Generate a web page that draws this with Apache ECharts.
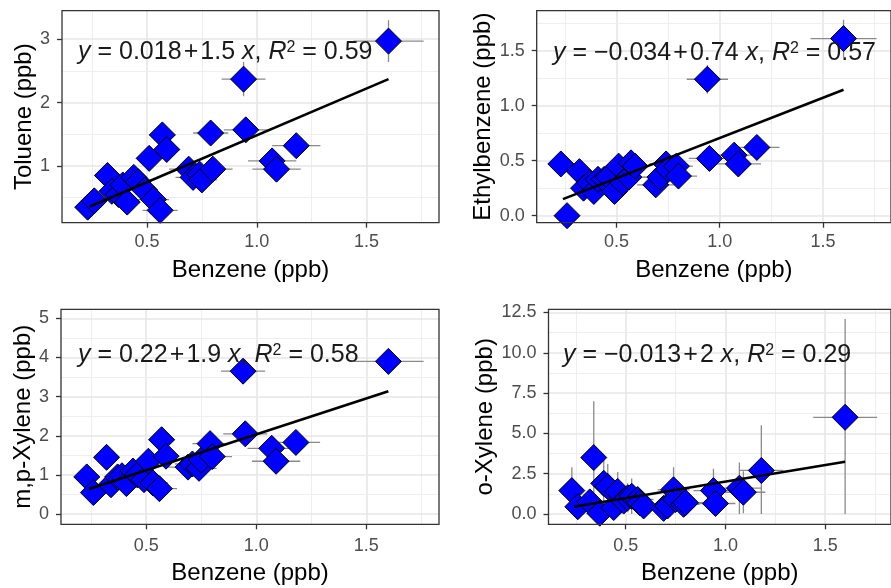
<!DOCTYPE html>
<html><head><meta charset="utf-8">
<script src="https://cdn.jsdelivr.net/npm/echarts@6/dist/echarts.min.js"></script>
<style>html,body{margin:0;padding:0;background:#fff}#c{width:891px;height:588px}</style>
</head><body><div id="c"></div>
<script>
// ---- data ----
const benzene    = [0.23,0.26,0.32,0.34,0.37,0.39,0.41,0.44,0.46,0.49,0.51,0.53,0.56,0.57,0.59,0.69,0.71,0.74,0.75,0.79,0.80,0.94,0.95,1.07,1.09,1.18,1.60];
const benzeneErr = [0.02,0.03,0.03,0.03,0.04,0.04,0.04,0.05,0.05,0.06,0.06,0.07,0.08,0.06,0.06,0.09,0.08,0.08,0.07,0.08,0.09,0.10,0.10,0.11,0.11,0.11,0.16];

const toluene    = [0.35,0.45,0.85,0.60,0.55,0.70,0.43,0.82,0.75,0.62,1.12,0.47,0.30,1.49,1.26,0.95,0.82,0.87,0.78,1.52,0.95,2.37,1.57,1.08,0.95,1.32,2.97];
const tolueneErr = [0.05,0.06,0.08,0.07,0.07,0.08,0.06,0.09,0.09,0.08,0.12,0.07,0.06,0.15,0.13,0.10,0.09,0.10,0.09,0.16,0.10,0.27,0.17,0.12,0.10,0.14,0.33];

const ethylbenzene = [0.47,0.00,0.40,0.25,0.30,0.22,0.33,0.33,0.35,0.22,0.45,0.30,0.35,0.48,0.45,0.28,0.35,0.47,0.42,0.45,0.36,1.24,0.52,0.55,0.47,0.62,1.61];
const ethylErr     = [0.03,0.02,0.03,0.03,0.03,0.03,0.03,0.03,0.03,0.03,0.04,0.03,0.03,0.04,0.04,0.03,0.03,0.04,0.04,0.04,0.03,0.13,0.05,0.05,0.04,0.05,0.17];

const mpXylene = [0.95,0.55,1.45,0.75,0.95,0.98,0.78,1.10,1.00,0.88,1.35,0.80,0.65,1.90,1.48,1.20,1.28,1.17,1.38,1.80,1.47,3.65,2.05,1.68,1.35,1.83,3.90];
const mpErr    = [0.06,0.05,0.10,0.06,0.07,0.07,0.06,0.08,0.08,0.07,0.10,0.06,0.05,0.14,0.11,0.09,0.10,0.09,0.10,0.13,0.11,0.28,0.15,0.12,0.10,0.13,0.20];

const oXylene = [1.45,0.45,0.75,3.50,0.05,1.90,1.70,0.40,1.40,0.80,1.00,1.10,0.90,0.70,0.50,0.35,0.50,1.50,0.90,0.60,0.70,1.45,0.65,1.60,1.35,2.70,6.00];
const oErr    = [1.45,0.50,0.60,3.50,0.30,1.60,1.40,0.50,1.20,0.70,0.90,1.10,0.70,0.60,0.50,0.40,0.50,1.40,0.80,0.60,0.60,1.35,0.60,1.60,1.30,2.80,6.10];

// fitted regression lines (endpoints)
const fitX   = [0.24, 1.60];
const tolFit = [0.36, 2.37];
const ethFit = [0.15, 1.145];
const mpFit  = [0.64, 3.14];
const oFit   = [0.45, 3.24];

// tick values
const xTicks      = [0.5, 1.0, 1.5];
const xMinor      = [0.25, 0.75, 1.25, 1.75];
const tolTicks    = [1, 2, 3];
const tolMinor    = [0.5, 1.5, 2.5];
const ethTicks    = [0.0, 0.5, 1.0, 1.5];
const ethMinor    = [0.25, 0.75, 1.25, 1.75];
const mpTicks     = [0, 1, 2, 3, 4, 5];
const mpMinor     = [0.5, 1.5, 2.5, 3.5, 4.5];
const oTicks      = [0.0, 2.5, 5.0, 7.5, 10.0, 12.5];
const oMinor      = [1.25, 3.75, 6.25, 8.75, 11.25];

const yNames = ['Toluene (ppb)', 'Ethylbenzene (ppb)', 'm,p-Xylene (ppb)', 'o-Xylene (ppb)'];
const xName = 'Benzene (ppb)';
const equations = [
  '{i|y} = 0.018\u200a+\u200a1.5 {i|x}, {i|R}{s|2} = 0.59',
  '{i|y} = \u22120.034\u200a+\u200a0.74 {i|x}, {i|R}{s|2} = 0.57',
  '{i|y} = 0.22\u200a+\u200a1.9 {i|x}, {i|R}{s|2} = 0.58',
  '{i|y} = \u22120.013\u200a+\u200a2 {i|x}, {i|R}{s|2} = 0.29'
];

// ---- layout / style ----
const FONT = 'Liberation Sans, Arial, sans-serif';
const grids = [
  {left: 62,    top: 10.7,  width: 377, height: 212},
  {left: 536.7, top: 10.7,  width: 361, height: 212},
  {left: 61,    top: 309.3, width: 378, height: 215},
  {left: 548.5, top: 309.3, width: 355, height: 215}
];
const xRange = [0.113, 1.83];
const yRanges = [[0.105, 3.45], [-0.064, 1.863], [-0.26, 5.23], [-0.64, 12.7]];
const yTickSets = [tolTicks, ethTicks, mpTicks, oTicks];
const yMinorSets = [tolMinor, ethMinor, mpMinor, oMinor];
const yDecimals = [0, 1, 0, 1];
const ySeries = [toluene, ethylbenzene, mpXylene, oXylene];
const yErrSeries = [tolueneErr, ethylErr, mpErr, oErr];
const fits = [tolFit, ethFit, mpFit, oFit];
const eqPos = [[78, 52], [553, 53], [78, 355], [563, 355]];
const yNameGap = [24, 30, 24, 38];
const xLabelMargin = [10, 10, 13, 13];
const xNameGap = [36, 36, 37, 37];

function errRender(params, api) {
  const x = api.value(0), y = api.value(1);
  const a = api.coord([api.value(2), y]), b = api.coord([api.value(3), y]);
  const c = api.coord([x, api.value(4)]), d = api.coord([x, api.value(5)]);
  const style = {stroke: '#8a8a8a', lineWidth: 1.3, fill: null};
  return {type: 'group', children: [
    {type: 'line', shape: {x1: a[0], y1: a[1], x2: b[0], y2: b[1]}, style: style},
    {type: 'line', shape: {x1: c[0], y1: c[1], x2: d[0], y2: d[1]}, style: style}
  ]};
}

const option = {
  backgroundColor: '#ffffff',
  animation: false,
  grid: grids.map(g => Object.assign({show: true, borderColor: '#333333', borderWidth: 1.3,
      backgroundColor: 'rgba(0,0,0,0)', z: 10, containLabel: false}, g)),
  xAxis: [], yAxis: [], series: [], graphic: []
};

for (let i = 0; i < 4; i++) {
  option.xAxis.push({
    gridIndex: i, type: 'value', min: xRange[0], max: xRange[1],
    splitLine: {show: false},
    axisLine: {show: false, onZero: false},
    axisTick: {show: true, customValues: xTicks, length: 5, lineStyle: {color: '#333333', width: 1.3}},
    axisLabel: {customValues: xTicks, formatter: v => v.toFixed(1), color: '#4d4d4d',
      fontSize: 18, fontFamily: FONT, margin: xLabelMargin[i]},
    name: xName, nameLocation: 'middle', nameGap: xNameGap[i],
    nameTextStyle: {color: '#000', fontSize: 24, fontFamily: FONT}
  });
  const dec = yDecimals[i];
  option.yAxis.push({
    gridIndex: i, type: 'value', min: yRanges[i][0], max: yRanges[i][1],
    splitLine: {show: false},
    axisLine: {show: false, onZero: false},
    axisTick: {show: true, customValues: yTickSets[i], length: 5, lineStyle: {color: '#333333', width: 1.3}},
    axisLabel: {customValues: yTickSets[i], formatter: v => v.toFixed(dec), color: '#4d4d4d',
      fontSize: 18, fontFamily: FONT, margin: 12},
    name: yNames[i], nameLocation: 'middle', nameGap: yNameGap[i],
    nameTextStyle: {color: '#000', fontSize: 24, fontFamily: FONT}
  });

  // gridlines
  const gl = [];
  xTicks.forEach(v => gl.push({xAxis: v, lineStyle: {width: 1.6, color: '#e6e6e6'}}));
  xMinor.forEach(v => gl.push({xAxis: v, lineStyle: {width: 1, color: '#eeeeee'}}));
  yTickSets[i].forEach(v => gl.push({yAxis: v, lineStyle: {width: 1.6, color: '#e6e6e6'}}));
  yMinorSets[i].forEach(v => gl.push({yAxis: v, lineStyle: {width: 1, color: '#eeeeee'}}));
  option.series.push({
    type: 'line', xAxisIndex: i, yAxisIndex: i, data: [], silent: true,
    markLine: {silent: true, symbol: 'none', z: 1, animation: false,
      label: {show: false}, emphasis: {disabled: true},
      lineStyle: {type: 'solid'}, data: gl}
  });

  // error bars
  const ys = ySeries[i], es = yErrSeries[i];
  const errData = benzene.map((x, k) => [x, ys[k], x - benzeneErr[k], x + benzeneErr[k],
      Math.max(0, ys[k] - es[k]), ys[k] + es[k]]);
  option.series.push({
    type: 'custom', xAxisIndex: i, yAxisIndex: i, z: 2, silent: true,
    renderItem: errRender, encode: {x: 0, y: 1}, data: errData, clip: true
  });

  // points
  option.series.push({
    type: 'scatter', xAxisIndex: i, yAxisIndex: i, z: 3, symbol: 'diamond', symbolSize: 26,
    itemStyle: {color: '#0000ff', borderColor: '#000000', borderWidth: 1, opacity: 1},
    data: benzene.map((x, k) => [x, ys[k]])
  });

  // fitted line
  option.series.push({
    type: 'line', xAxisIndex: i, yAxisIndex: i, z: 4, symbol: 'none', silent: true,
    lineStyle: {color: '#000000', width: 2.6},
    data: fitX.map((x, k) => [x, fits[i][k]])
  });

  option.graphic.push({
    type: 'text', x: eqPos[i][0], y: eqPos[i][1], z: 20,
    style: {
      text: equations[i], fill: '#1a1a1a', font: '25px ' + FONT,
      fontSize: 25, fontFamily: FONT, verticalAlign: 'middle', textVerticalAlign: 'middle',
      rich: {
        i: {fontStyle: 'italic', fontSize: 25, fontFamily: FONT, fill: '#1a1a1a'},
        s: {fontSize: 16, fontFamily: FONT, fill: '#1a1a1a', verticalAlign: 'top', padding: [0, 0, 9, 0]}
      }
    }
  });
}

const chart = echarts.init(document.getElementById('c'), null, {renderer: 'canvas'});
chart.setOption(option);
</script></body></html>
